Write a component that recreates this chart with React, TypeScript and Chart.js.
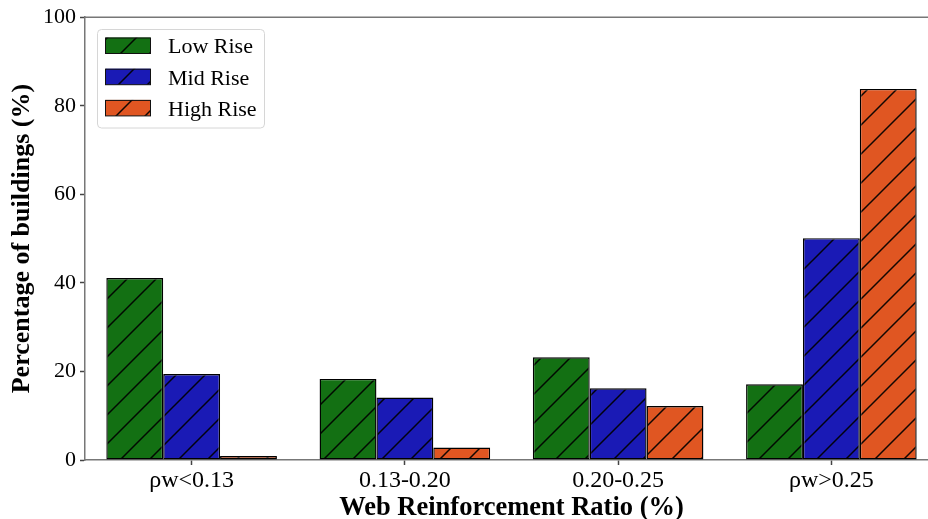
import React, { useEffect, useRef } from "react";
import { Chart, registerables } from "chart.js";

Chart.register(...registerables);

const categories = ["ρw<0.13", "0.13-0.20", "0.20-0.25", "ρw>0.25"];
const seriesNames = ["Low Rise", "Mid Rise", "High Rise"];
const lowRise = [41.1, 18.3, 23.2, 17.1];
const midRise = [19.4, 14.1, 16.2, 50.1];
const highRise = [0.9, 2.8, 12.2, 83.8];
const seriesColors = ["#137013", "#1a1ab5", "#e05622"];
const yTicks = [0, 20, 40, 60, 80, 100];

const FONT = "'Liberation Serif', 'Times New Roman', serif";
const W = 950;
const H = 519;
const HATCH = 29;

function makeHatch(color: string): CanvasPattern | string {
  const c = document.createElement("canvas");
  c.width = HATCH;
  c.height = HATCH;
  const ctx = c.getContext("2d");
  if (!ctx) return color;
  ctx.fillStyle = color;
  ctx.fillRect(0, 0, HATCH, HATCH);
  ctx.strokeStyle = "rgba(0,0,0,0.92)";
  ctx.lineWidth = 1.5;
  ctx.beginPath();
  ctx.moveTo(-2, HATCH + 2);
  ctx.lineTo(HATCH + 2, -2);
  ctx.moveTo(-2, 2);
  ctx.lineTo(2, -2);
  ctx.moveTo(HATCH - 2, HATCH + 2);
  ctx.lineTo(HATCH + 2, HATCH - 2);
  ctx.stroke();
  const p = ctx.createPattern(c, "repeat");
  return p || color;
}

const framePlugin = {
  id: "frameAndLegend",
  afterDraw(chart: any) {
    const ctx = chart.ctx;
    const a = chart.chartArea;
    ctx.save();
    // top spine
    ctx.strokeStyle = "#777";
    ctx.lineWidth = 1.5;
    ctx.beginPath();
    ctx.moveTo(a.left - 0.75, a.top);
    ctx.lineTo(a.right, a.top);
    ctx.stroke();

    // legend
    const bx = 97.5, by = 29.5, bw = 167, bh = 98.5, r = 4;
    ctx.fillStyle = "rgba(255,255,255,0.85)";
    ctx.strokeStyle = "#d6d6d6";
    ctx.lineWidth = 1;
    ctx.beginPath();
    ctx.moveTo(bx + r, by);
    ctx.lineTo(bx + bw - r, by);
    ctx.arcTo(bx + bw, by, bx + bw, by + r, r);
    ctx.lineTo(bx + bw, by + bh - r);
    ctx.arcTo(bx + bw, by + bh, bx + bw - r, by + bh, r);
    ctx.lineTo(bx + r, by + bh);
    ctx.arcTo(bx, by + bh, bx, by + bh - r, r);
    ctx.lineTo(bx, by + r);
    ctx.arcTo(bx, by, bx + r, by, r);
    ctx.closePath();
    ctx.fill();
    ctx.stroke();

    chart.data.datasets.forEach((ds: any, i: number) => {
      const cy = 45.5 + i * 31.2;
      ctx.fillStyle = ds.backgroundColor;
      ctx.fillRect(105.5, cy - 8, 45, 16);
      ctx.strokeStyle = "#111";
      ctx.lineWidth = 1;
      ctx.strokeRect(105.5, cy - 7.5, 45, 15.5);
      ctx.fillStyle = "#000";
      ctx.font = `22px ${FONT}`;
      ctx.textBaseline = "alphabetic";
      ctx.textAlign = "left";
      ctx.fillText(ds.label, 168, cy + 7.8);
    });
    ctx.restore();
  },
};

export default function App() {
  const ref = useRef<HTMLCanvasElement | null>(null);

  useEffect(() => {
    if (!ref.current) return;
    const values = [lowRise, midRise, highRise];
    const chart = new Chart(ref.current, {
      type: "bar",
      data: {
        labels: categories,
        datasets: seriesNames.map((name, i) => ({
          label: name,
          data: values[i],
          backgroundColor: makeHatch(seriesColors[i]) as any,
          borderColor: "#000",
          borderWidth: 1.4,
          borderSkipped: false,
          categoryPercentage: 0.8,
          barPercentage: 1.0,
        })),
      },
      options: {
        responsive: false,
        animation: false,
        devicePixelRatio: 1,
        layout: { padding: { top: 17, right: W - 938, left: 0, bottom: 0 } },
        plugins: {
          legend: { display: false },
          tooltip: { enabled: false },
        },
        scales: {
          x: {
            type: "category",
            offset: true,
            afterFit(scale: any) {
              scale.height = H - 460;
            },
            grid: {
              display: true,
              drawOnChartArea: false,
              drawTicks: true,
              tickLength: 5,
              tickWidth: 1.5,
              tickColor: "#444",
              offset: false,
            },
            border: { display: true, color: "#777", width: 1.5 },
            ticks: {
              color: "#000",
              font: { family: FONT, size: 24, lineHeight: 1 },
              padding: 4,
              maxRotation: 0,
            },
            title: {
              display: true,
              text: "Web Reinforcement Ratio (%)",
              color: "#000",
              font: { family: FONT, size: 26.5, weight: "bold", lineHeight: 1 },
              padding: { top: 0, bottom: -2 },
            },
          },
          y: {
            min: 0,
            max: 100,
            afterFit(scale: any) {
              scale.width = 85;
            },
            afterBuildTicks(scale: any) {
              scale.ticks = yTicks.map((v) => ({ value: v }));
            },
            grid: {
              display: true,
              drawOnChartArea: false,
              drawTicks: true,
              tickLength: 5,
              tickWidth: 1.5,
              tickColor: "#444",
            },
            border: { display: true, color: "#777", width: 1.5 },
            ticks: {
              color: "#000",
              font: { family: FONT, size: 22 },
              padding: 4,
            },
            title: {
              display: true,
              text: "Percentage of buildings (%)",
              color: "#000",
              font: { family: FONT, size: 26, weight: "bold", lineHeight: 1 },
              padding: { top: 9.5, bottom: 0 },
            },
          },
        },
      },
      plugins: [framePlugin],
    });
    return () => chart.destroy();
  }, []);

  return (
    <div
      style={{
        position: "fixed",
        left: 0,
        top: 0,
        width: 928,
        height: 519,
        overflow: "hidden",
        background: "#fff",
      }}
    >
      <canvas ref={ref} width={W} height={H} style={{ display: "block" }} />
    </div>
  );
}
